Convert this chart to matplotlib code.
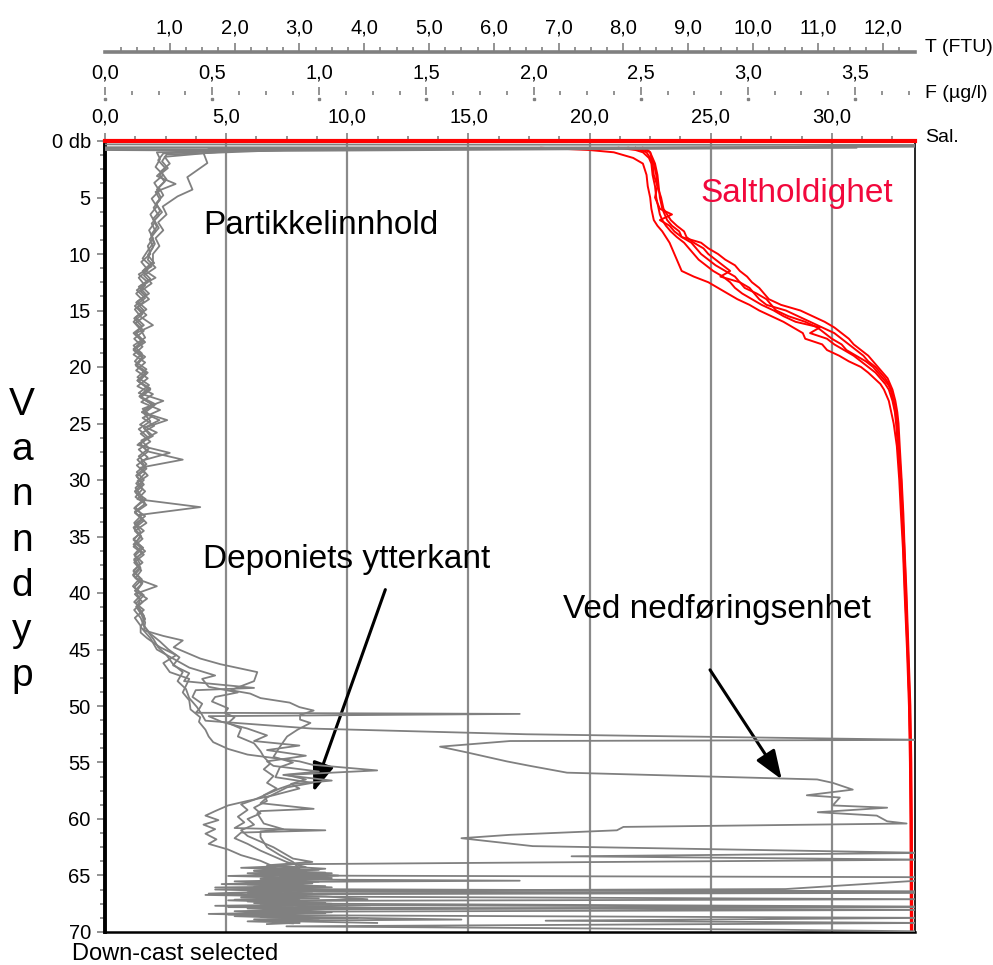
""" Turbidity (FTU) and salinity profiles against depth, several down-casts.
"""

import matplotlib
matplotlib.use('Agg')
import matplotlib.pyplot as plt
from matplotlib.ticker import MultipleLocator, FixedLocator, FuncFormatter
from matplotlib.transforms import blended_transform_factory
import numpy as np

plt.rcParams['font.family'] = ['Liberation Sans', 'DejaVu Sans']

# ======================================================================================================================
# salinity casts, shared depth levels (db)
red_depth = [0.6, 0.8, 1.0, 1.5, 2, 3, 4, 5, 6, 6.5, 7, 7.5, 8, 8.5, 9, 9.5, 10, 10.5, 11, 11.5,
             12, 12.5, 13, 13.5, 14, 14.5, 15, 15.5, 16, 16.5, 17, 17.5, 18, 18.5, 19, 19.5, 20, 20.5,
             21, 21.5, 22, 23, 24, 25, 27, 30, 33, 36, 40, 45, 50, 55, 60, 65, 70]

sal_1 = [18.0, 20.0, 21.0, 21.8, 22.2, 22.35, 22.4, 22.5, 22.55, 22.6,
         22.65, 22.8, 23.0, 23.15, 23.3, 23.4, 23.5, 23.6, 23.7, 23.8,
         24.3, 24.9, 25.3, 25.7, 26.1, 26.6, 27.0, 27.5, 28.0, 28.4,
         28.8, 28.9, 29.6, 29.8, 30.3, 30.7, 31.2, 31.5, 31.75, 32.0,
         32.15, 32.35, 32.45, 32.55, 32.68, 32.78, 32.85, 32.93, 33.0, 33.1,
         33.18, 33.22, 33.24, 33.25, 33.26]
sal_2 = [21.6, 22.3, 22.5, 22.6, 22.7, 22.8, 22.85, 22.9, 23.0, 23.1,
         23.2, 23.4, 23.7, 23.8, 24.6, 24.9, 25.3, 25.6, 26.0, 26.2,
         26.5, 26.7, 27.0, 27.2, 27.4, 27.9, 28.7, 29.2, 29.7, 30.1,
         30.4, 30.7, 30.9, 31.2, 31.5, 31.7, 31.9, 32.1, 32.3, 32.4,
         32.5, 32.62, 32.7, 32.75, 32.8, 32.88, 32.95, 33.0, 33.08, 33.16,
         33.24, 33.28, 33.3, 33.31, 33.32]
sal_3 = [21.2, 21.9, 22.2, 22.45, 22.55, 22.6, 22.7, 22.75, 22.85, 22.9,
         23.0, 23.15, 23.35, 23.6, 23.9, 24.1, 24.3, 24.5, 24.8, 25.1,
         25.5, 25.8, 26.0, 26.3, 26.7, 27.1, 27.6, 28.0, 28.5, 29.5,
         29.1, 29.8, 30.1, 30.5, 30.9, 31.2, 31.5, 31.8, 32.0, 32.2,
         32.35, 32.5, 32.6, 32.65, 32.72, 32.82, 32.9, 32.97, 33.04, 33.13,
         33.2, 33.24, 33.26, 33.27, 33.28]
sal_4 = [21.9, 22.1, 22.35, 22.5, 22.6, 22.65, 22.8, 22.7, 22.9, 23.4,
         22.9, 23.3, 23.5, 23.8, 24.2, 24.4, 24.6, 24.9, 25.2, 25.6,
         26.0, 26.2, 26.4, 26.9, 27.3, 27.5, 27.7, 28.2, 28.9, 29.4,
         29.7, 30.0, 30.4, 30.6, 31.0, 31.4, 31.7, 31.9, 32.1, 32.3,
         32.45, 32.55, 32.62, 32.68, 32.75, 32.84, 32.9, 32.95, 33.02, 33.12,
         33.2, 33.25, 33.27, 33.28, 33.29]
sal_5 = [22.2, 22.4, 22.5, 22.55, 22.65, 22.75, 22.8, 22.95, 23.05, 23.2,
         23.35, 23.6, 23.9, 24.0, 24.3, 24.7, 24.9, 25.2, 25.5, 25.8,
         25.4, 26.2, 26.6, 26.8, 27.0, 27.3, 28.1, 28.6, 29.1, 29.6,
         30.1, 30.4, 30.7, 31.0, 31.3, 31.5, 31.8, 32.0, 32.2, 32.35,
         32.42, 32.55, 32.66, 32.7, 32.76, 32.86, 32.92, 32.99, 33.06, 33.14,
         33.22, 33.26, 33.28, 33.3, 33.3]

# ======================================================================================================================
# turbidity casts (FTU), each with its own depth record; values past 12.5 are off scale
dep_1 = [0.30, 0.35, 0.45, 0.80, 1.2, 1.8, 2.4, 3.0, 3.6, 4.3, 5.0, 5.6, 6.3, 7.0, 7.7, 8.4, 9.1, 9.8,
         10.5, 11.2, 11.9, 12.6, 13.3, 14.0, 14.7, 15.4, 16.1, 16.8, 17.5, 18.2, 18.9, 19.6, 20.3,
         21.0, 21.7, 22.4, 23.1, 23.8, 24.5, 25.2, 25.9, 26.6, 27.3, 28.0, 28.7, 29.4, 30.1, 30.8,
         31.5, 32.2, 32.9, 33.6, 34.3, 35.0, 35.7, 36.4, 37.1, 37.8, 38.5, 39.2, 39.9, 40.6, 41.3,
         42.0, 42.7, 43.4, 44.1, 44.8, 45.5, 46.3, 47.0, 47.8, 48.5, 49.3, 50.1, 50.8, 51.3, 52.0,
         52.5, 53.0, 53.1, 53.6, 54.1, 54.9, 55.3, 55.9, 56.5, 56.8, 57.4, 57.9, 58.1, 58.8, 59.0,
         59.4, 59.7, 60.2, 60.4, 60.7, 61.0, 61.4, 61.7, 62.4, 63.0, 63.3, 63.6, 64.0, 64.3, 64.6,
         64.9, 65.2, 65.4, 65.6, 65.8, 66.0, 66.2, 66.4, 66.6, 66.8, 67.0, 67.2, 67.4, 67.6, 67.8,
         68.0, 68.2, 68.4, 68.6, 68.8, 69.0, 69.2]
ftu_1 = [0.0, 12.7, 12.7, 2.8, 0.95, 0.88, 0.97, 0.84, 0.92, 0.80, 0.86, 0.79, 0.88, 0.76, 0.83, 0.72,
         0.77, 0.70,
         0.66, 0.78, 0.60, 0.72, 0.55, 0.68, 0.50, 0.64, 0.47, 0.60,
         0.45, 0.58, 0.44, 0.62, 0.48, 0.66, 0.50, 0.74, 0.56, 0.85,
         0.58, 0.76, 0.55, 0.70, 0.52, 0.66, 0.49, 0.62, 0.50, 0.58,
         0.47, 0.64, 0.46, 0.60, 0.45, 0.56, 0.44, 0.58, 0.45, 0.55,
         0.44, 0.57, 0.48, 0.54, 0.50, 0.60,
         0.58, 0.66, 0.75, 0.82, 0.95, 1.05, 1.20, 1.12, 1.25, 1.30, 1.42, 1.50,
         1.55, 3.2, 6.5, 12.7, 6.25, 5.17, 5.58, 6.20, 6.56, 7.13, 10.99, 11.23, 11.54, 10.83, 11.34,
         11.23, 12.07, 11.0, 11.91, 12.07, 12.37, 8.0, 7.9, 6.25, 5.5, 6.6, 12.7, 7.2, 12.7, 2.9,
         2.5, 3.1, 2.6, 3.3, 2.4, 3.0, 2.2, 3.2, 2.5, 12.7, 2.8, 2.1, 3.0, 2.3, 3.4, 2.6, 12.7,
         3.0, 2.2, 2.9, 2.0, 3.1, 2.4, 4.2]

dep_2 = [0.40, 0.50, 0.70, 1.06, 1.95, 3.2, 4.3, 4.9, 5.8, 6.5, 7.2, 7.9, 8.6, 9.3, 10.0, 10.7,
         11.4, 12.1, 12.8, 13.5, 14.2, 14.9, 15.6, 16.3, 17.0, 17.7, 18.4, 19.1, 19.8, 20.5, 21.2,
         21.9, 22.6, 23.3, 24.0, 24.7, 25.4, 26.1, 26.8, 27.5, 28.2, 28.9, 29.6, 30.3, 31.0, 31.7,
         32.4, 33.1, 33.8, 34.5, 35.2, 35.9, 36.6, 37.3, 38.0, 38.7, 39.4, 40.1, 40.8, 41.5, 42.2,
         42.9, 43.6, 44.3, 45.0, 45.7, 46.4, 47.1, 47.8, 48.4, 48.6, 49.2, 49.8, 50.3, 50.6, 50.7,
         50.9, 51.4, 52.0, 52.6, 53.1, 53.5, 53.9, 54.4, 54.9, 55.3, 55.8, 56.1, 56.6, 56.9, 57.3,
         57.8, 58.3, 58.7, 59.2, 59.8, 60.3, 60.8, 61.0, 61.2, 61.7, 62.2, 62.8, 63.3, 63.8,
         64.26, 64.38, 64.5, 64.62, 64.74, 64.86, 64.98, 65.1, 65.22, 65.34,
         65.46, 65.58, 65.7, 65.82, 65.94, 66.06, 66.18, 66.3, 66.42, 66.54,
         66.66, 66.78, 66.9, 67.02, 67.14, 67.26, 67.38, 67.5, 67.62, 67.74,
         67.86, 67.98, 68.1, 68.22, 68.34, 68.46, 68.58, 68.7, 68.82, 68.94,
         69.06, 69.18, 69.3]
ftu_2 = [12.7, 12.7, 1.6, 1.52, 1.58, 1.27, 1.35, 1.12, 0.89, 0.95, 0.82, 0.90, 0.78, 0.84, 0.74,
         0.74, 0.60, 0.78, 0.55, 0.68, 0.50, 0.64, 0.47, 0.60, 0.44,
         0.57, 0.45, 0.62, 0.48, 0.66, 0.50, 0.70, 0.54, 0.78, 0.57,
         0.96, 0.60, 0.74, 0.52, 0.68, 1.20, 0.55, 0.66, 0.48, 0.62,
         0.50, 1.47, 0.52, 0.64, 0.46, 0.58, 0.44, 0.60, 0.45, 0.56,
         0.47, 0.80, 0.46, 0.58, 0.45, 0.55, 0.60,
         0.70, 0.85, 0.98, 1.15, 1.05, 1.30, 1.22, 2.30, 1.40, 1.35, 1.50, 1.45, 1.40,
         6.40, 1.60, 1.80, 2.20, 2.50, 2.30, 3.00, 2.50, 3.10, 2.50, 2.60, 3.30, 2.75, 3.50, 2.90,
         2.70, 2.50, 2.30, 2.10, 2.20, 2.05, 2.15, 2.00, 3.40, 2.10, 2.00, 2.20, 2.40, 2.60, 2.80,
         3.1, 2.5, 3.3, 2.6, 3.4, 2.4, 3.2, 2.7, 3.5, 2.5,
         6.4, 2.3, 3.2, 2.6, 3.4, 1.7, 2.9, 2.4, 3.3, 12.7,
         2.2, 3.1, 2.5, 3.3, 2.0, 3.0, 2.6, 3.5, 2.4, 3.2,
         4.1, 2.6, 3.1, 2.2, 3.4, 1.9, 3.0, 2.5, 3.3, 2.7,
         2.2, 3.0, 2.5]

dep_3 = [0.55, 0.60, 0.90, 1.4, 2.0, 2.7, 3.4, 4.1, 4.8, 5.5, 6.2, 6.9, 7.6, 8.3, 9.0, 9.7, 10.4,
         11.1, 11.8, 12.5, 13.2, 13.9, 14.6, 15.3, 16.0, 16.7, 17.4, 18.1, 18.8, 19.5, 20.2, 20.9,
         21.6, 22.3, 23.0, 23.7, 24.4, 25.1, 25.8, 26.5, 27.2, 27.9, 28.6, 29.3, 30.0, 30.7, 31.4,
         32.1, 32.8, 33.5, 34.2, 34.9, 35.6, 36.3, 37.0, 37.7, 38.4, 39.1, 39.8, 40.5, 41.2, 41.9,
         42.6, 43.3, 43.8, 44.2, 44.8, 45.8, 46.3, 47.0, 47.8, 48.6, 48.9, 49.3, 49.7, 50.1, 50.4,
         50.8, 51.2, 51.5, 52.1, 52.7, 53.6, 54.5, 55.0, 55.4, 56.3, 56.8, 57.2, 58.1, 58.6, 59.1,
         59.3, 59.5, 60.4, 60.9, 61.1, 61.6, 62.5, 63.2, 63.8, 64.4, 64.6, 64.8, 65.0, 65.15, 65.4,
         66.2, 66.35, 66.6, 66.85, 67.1, 67.3, 67.55, 67.8, 68.05, 68.2, 68.45, 68.7, 68.9, 69.0,
         69.2]
ftu_3 = [0.0, 11.6, 1.9, 0.92, 1.0, 0.86, 0.95, 0.83, 0.90, 0.79, 0.85, 0.74, 0.80, 0.71, 0.75,
         0.66,
         0.58, 0.72, 0.52, 0.66, 0.49, 0.62, 0.46, 0.58, 0.44, 0.55,
         0.62, 0.44, 0.57, 0.46, 0.64, 0.50, 0.68, 0.52, 0.90, 0.58,
         0.72, 0.54, 0.80, 0.56, 0.68, 0.52, 0.64, 0.49, 0.60, 0.47,
         0.56, 0.62, 0.46, 0.58, 0.44, 0.55, 0.47, 0.62, 0.45, 0.54,
         0.43, 0.58, 0.46, 0.65, 0.48, 0.56, 0.62,
         0.60, 0.90, 1.20, 1.06, 1.47, 1.78, 2.35, 2.30, 1.94, 2.24, 2.40, 2.85,
         3.00, 3.22, 3.01, 3.01, 3.17, 2.97, 2.81, 2.70, 2.60, 2.90, 2.70, 2.63, 3.20, 2.81, 2.50,
         2.40, 3.22, 2.40, 2.35, 2.45, 2.75, 2.40, 2.40, 2.50, 2.70, 2.90, 3.0, 2.3, 3.5, 2.5, 12.7,
         12.7, 10.5, 3.0, 1.6, 3.4, 4.05, 2.2, 3.1, 1.9, 12.7, 2.8, 2.1, 3.3, 5.5, 2.4, 3.0]

dep_4 = [0.70, 0.75, 1.0, 1.6, 2.3, 3.0, 3.7, 4.4, 5.1, 5.8, 6.5, 7.2, 7.9, 8.6, 9.3, 10.0, 10.7,
         11.4, 12.1, 12.8, 13.5, 14.2, 14.9, 15.6, 16.3, 17.0, 17.7, 18.4, 19.1, 19.8, 20.5, 21.2,
         21.9, 22.6, 23.3, 24.0, 24.7, 25.4, 26.1, 26.8, 27.5, 28.2, 28.9, 29.6, 30.3, 31.0, 31.7,
         32.4, 33.1, 33.8, 34.5, 35.2, 35.9, 36.6, 37.3, 38.0, 38.7, 39.4, 40.1, 40.8, 41.5, 42.2,
         42.9, 43.5, 44.0, 44.8, 45.5, 46.2, 47.0, 47.6, 48.2, 48.8, 49.5, 50.3, 51.0, 51.4, 52.1,
         52.7, 53.2, 53.8, 54.3, 54.6, 54.9, 55.2, 55.7, 55.9, 56.1, 56.5, 56.9, 57.3, 57.6, 57.9,
         58.4, 58.8, 59.3, 59.7, 60.1, 60.5, 60.9, 61.3, 61.8, 62.2, 62.7, 63.2, 63.7,
         64.2, 64.32, 64.44, 64.56, 64.68, 64.8, 64.92, 65.04, 65.16, 65.28,
         65.4, 65.52, 65.64, 65.76, 65.88, 66.0, 66.12, 66.24, 66.36, 66.48,
         66.6, 66.72, 66.84, 66.96, 67.08, 67.2, 67.32, 67.44, 67.56, 67.68,
         67.8, 67.92, 68.04, 68.16, 68.28, 68.4, 68.52, 68.64, 68.76, 68.88,
         69.0, 69.12, 69.24]
ftu_4 = [0.0, 3.0, 0.80, 0.85, 0.78, 0.90, 0.76, 0.84, 0.72, 0.80, 0.70, 0.77, 0.68, 0.74, 0.66,
         0.70, 0.56, 0.66, 0.52, 0.62, 0.48, 0.60, 0.46, 0.56, 0.74,
         0.48, 0.60, 0.44, 0.58, 0.47, 0.62, 0.50, 0.66, 0.53, 0.72,
         0.57, 0.84, 0.60, 0.70, 0.55, 0.66, 0.50, 0.62, 0.48, 0.58,
         0.46, 0.63, 0.47, 0.57, 0.45, 0.60, 0.44, 0.56, 0.45, 0.58,
         0.44, 0.54, 0.43, 0.57, 0.45, 0.60, 0.46, 0.55,
         0.55, 0.65, 0.85, 1.10, 0.90, 1.00, 1.30, 1.25, 1.20, 1.30, 1.32, 1.47,
         1.45, 1.55, 1.60, 1.67, 1.90, 2.20, 2.60, 3.00, 3.20, 4.20, 3.50, 2.80, 3.10, 2.87, 3.00,
         2.80, 2.60, 2.20, 1.90, 1.70, 1.55, 1.75, 1.52, 1.70, 1.55, 1.72, 1.60, 1.90, 2.10, 2.40,
         2.6, 2.1, 2.9, 2.3, 3.0, 2.2, 2.8, 1.9, 2.9, 2.4,
         3.1, 2.0, 2.7, 1.8, 3.0, 2.3, 2.9, 1.7, 2.6, 2.2,
         3.2, 1.55, 2.8, 2.1, 3.0, 1.9, 2.7, 2.3, 3.3, 1.7,
         2.9, 2.2, 3.1, 2.0, 2.8, 1.6, 2.7, 2.4, 3.9, 2.3,
         3.2, 2.6, 2.9]

dep_5 = [0.80, 0.85, 1.1, 1.7, 2.4, 3.1, 3.8, 4.5, 5.2, 5.9, 6.6, 7.3, 8.0, 8.7, 9.4, 10.1, 10.8,
         11.5, 12.2, 12.9, 13.6, 14.3, 15.0, 15.7, 16.4, 17.1, 17.8, 18.5, 19.2, 19.9, 20.6, 21.3,
         22.0, 22.7, 23.4, 24.1, 24.8, 25.5, 26.2, 26.9, 27.6, 28.3, 29.0, 29.7, 30.4, 31.1, 31.8,
         32.5, 33.2, 33.9, 34.6, 35.3, 36.0, 36.7, 37.4, 38.1, 38.8, 39.5, 40.2, 40.9, 41.6, 42.3,
         43.0, 44.0, 45.0, 45.8, 46.6, 47.3, 47.6, 48.3, 48.8, 49.2, 49.6, 50.2, 50.6, 51.0, 51.5,
         52.0, 52.7, 53.3, 54.0, 54.5, 55.1, 55.6, 56.2, 56.8, 57.3, 57.9, 58.4, 59.0, 59.5, 60.0,
         60.5, 61.0, 61.5, 62.0, 62.5, 63.0, 63.5, 63.8, 64.1, 64.4, 64.7, 65.0, 65.3, 65.55, 65.8,
         66.05, 66.3, 66.6, 66.85, 67.1, 67.25, 67.5, 67.75, 68.0, 68.25, 68.5, 68.75, 69.0, 69.2,
         69.5, 69.8, 69.95]
ftu_5 = [0.0, 1.95, 0.90, 0.82, 0.93, 0.80, 1.09, 0.78, 0.85, 0.75, 0.83, 0.72, 0.78, 0.69, 0.74,
         0.66, 0.76, 0.58, 0.70, 0.52, 0.64, 0.48, 0.60, 0.45, 0.57,
         0.46, 0.62, 0.44, 0.58, 0.48, 0.64, 0.52, 0.70, 0.55, 0.76,
         0.60, 0.70, 0.52, 0.66, 0.50, 1.00, 0.56, 0.64, 0.49, 0.60,
         0.47, 0.58, 0.45, 0.62, 0.46, 0.55, 0.44, 0.59, 0.46, 0.54,
         0.44, 0.57, 0.45, 0.60, 0.48, 0.56, 0.62,
         0.55, 0.70, 0.80, 1.05, 1.30, 1.70, 1.50, 1.60, 2.05, 1.70, 1.65, 1.90, 1.85,
         2.00, 1.90, 2.10, 2.05, 2.30, 2.40, 2.45, 2.55, 2.45, 2.60, 2.50, 2.65, 2.45, 2.50, 2.30,
         2.40, 2.20, 2.30, 2.10, 2.20, 2.40, 2.60, 2.75, 2.9, 3.2, 2.5, 3.4, 2.7, 3.6, 2.6, 3.3,
         2.4, 3.5, 2.3, 3.2, 2.5, 12.7, 2.6, 3.4, 12.7, 2.7, 3.5, 2.2, 12.7, 6.8, 12.7, 2.8, 10.4,
         12.7]

sal_casts = [sal_1, sal_2, sal_3, sal_4, sal_5]
ftu_casts = [(dep_1, ftu_1), (dep_2, ftu_2), (dep_3, ftu_3), (dep_4, ftu_4), (dep_5, ftu_5)]

depth_ticks = list(range(0, 71, 5))
depth_labels = ['0 db'] + [str(d) for d in depth_ticks[1:]]
ylabel_letters = list('Vanndyp')

# ======================================================================================================================
W, H = 993, 965
GRAY = '#808080'
px = 72. / 100.     # points per pixel at dpi=100

comma = FuncFormatter(lambda v, _: f'{v:.1f}'.replace('.', ','))

fig = plt.figure(figsize=(W / 100, H / 100), dpi=100)
ax = fig.add_axes([105 / W, 1 - 932 / H, 810 / W, 791 / H])
ax_t = ax.twiny()       # turbidity scale, drawn above the salinity lines
ax_f = ax.twiny()       # fluorescence scale, ticks only

# salinity scale (main axes)
ax.set_xlim(0, 33.43)
ax.set_ylim(70, 0)
ax.xaxis.tick_top()
ax.xaxis.set_major_locator(MultipleLocator(5))
ax.xaxis.set_minor_locator(MultipleLocator(1.25))
ax.xaxis.set_major_formatter(comma)
ax.set_yticks(depth_ticks)
ax.set_yticklabels(depth_labels)
ax.yaxis.set_minor_locator(MultipleLocator(1.25))
ax.tick_params(which='both', direction='out', color=GRAY, width=1.2, labelsize=14.5)
ax.tick_params(axis='x', which='major', length=8 * px, pad=4.5)
ax.tick_params(axis='x', which='minor', length=5 * px)
ax.tick_params(axis='y', which='major', length=8 * px, pad=4.5)
ax.tick_params(axis='y', which='minor', length=5 * px)
ax.grid(axis='x', which='major', color='#8a8a8a', lw=1.6)
ax.set_axisbelow(True)

ax.spines['left'].set_linewidth(2.8)
ax.spines['bottom'].set_linewidth(1.8)
ax.spines['right'].set_linewidth(1.2)
ax.spines['top'].set_color('red')
ax.spines['top'].set_linewidth(3.0)

for s in sal_casts:
    ax.plot(s, red_depth, color='red', lw=1.4, zorder=3)

# turbidity scale
ax_t.set_xlim(0, 12.5)
for side in ['left', 'right', 'bottom']:
    ax_t.spines[side].set_visible(False)
ax_t.spines['top'].set_position(('outward', 89.5 * px))
ax_t.spines['top'].set_color(GRAY)
ax_t.spines['top'].set_linewidth(2.6)
ax_t.xaxis.set_major_locator(FixedLocator(np.arange(1, 13)))
ax_t.xaxis.set_minor_locator(FixedLocator(np.arange(0.25, 12.5, 0.25)))
ax_t.xaxis.set_major_formatter(comma)
ax_t.tick_params(which='both', direction='out', color=GRAY, width=1.2, labelsize=14.5)
ax_t.tick_params(which='major', length=9 * px, pad=3.5)
ax_t.tick_params(which='minor', length=5 * px)

for d, t in ftu_casts:
    ax_t.plot(t, d, color=GRAY, lw=1.3, zorder=4)

# fluorescence scale
ax_f.set_xlim(0, 3.78)
for side in ['left', 'right', 'bottom', 'top']:
    ax_f.spines[side].set_visible(False)
ax_f.spines['top'].set_position(('outward', 46 * px))
f_major = np.arange(0, 3.51, 0.5)
ax_f.xaxis.set_major_locator(FixedLocator(f_major))
ax_f.xaxis.set_minor_locator(FixedLocator(np.arange(0.125, 3.76, 0.125)))
ax_f.xaxis.set_major_formatter(comma)
ax_f.tick_params(which='both', direction='out', color=GRAY, width=1.2, labelsize=14.5)
ax_f.tick_params(which='major', length=8 * px, pad=3.5)
ax_f.tick_params(which='minor', length=4.5 * px)
# the little dot under every major F tick
ax_f.plot(f_major, [1 - 98.5 / H] * len(f_major), ls='none', marker='s', ms=1.6, color=GRAY,
          transform=blended_transform_factory(ax_f.transData, fig.transFigure), clip_on=False)

# scale names at the right end
for txt, y in [('T (FTU)', 48), ('F (µg/l)', 93), ('Sal.', 138)]:
    fig.text(925 / W, 1 - y / H, txt, fontsize=14, ha='left', va='center')

# depth label, one letter per line
for i, ch in enumerate(ylabel_letters):
    fig.text(22 / W, 1 - (415 + 45.2 * i) / H, ch, fontsize=28, ha='center', va='baseline')

fig.text(72 / W, 1 - 960 / H, 'Down-cast selected', fontsize=17, ha='left', va='baseline')

# annotations (salinity / depth coordinates)
ax.text(4.06, 8.23, 'Partikkelinnhold', fontsize=24, ha='left', va='baseline', zorder=6)
ax.text(24.56, 5.37, 'Saltholdighet', fontsize=24, color='#f2083c', ha='left', va='baseline', zorder=6)
ax.text(4.06, 37.8, 'Deponiets ytterkant', fontsize=24, ha='left', va='baseline', zorder=6)
ax.text(18.9, 42.2, 'Ved nedføringsenhet', fontsize=24, ha='left', va='baseline', zorder=6)

arrow = dict(arrowstyle='-|>,head_length=0.8,head_width=0.3', color='black', lw=2.2,
             mutation_scale=22, shrinkA=0, shrinkB=0)
ax.annotate('', xy=(8.6, 57.6), xytext=(11.57, 39.7), arrowprops=arrow, zorder=6)
ax.annotate('', xy=(27.93, 56.5), xytext=(24.97, 46.8), arrowprops=arrow, zorder=6)

fig.savefig('out.png', dpi=100)
